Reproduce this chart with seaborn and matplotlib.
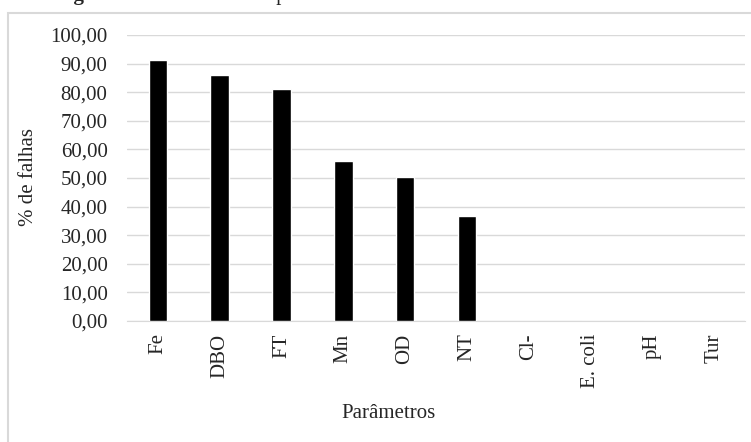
import numpy as np
import pandas as pd
import seaborn as sns
import matplotlib.pyplot as plt
from matplotlib.ticker import FuncFormatter
from matplotlib.patches import Rectangle

# data
parametros = ['Fe', 'DBO', 'FT', 'Mn', 'OD', 'NT', 'Cl-', 'E. coli', 'pH', 'Tur']
falhas = [91.3, 85.9, 81.0, 55.8, 50.5, 36.8, 0, 0, 0, 0]
yticks = [0, 10, 20, 30, 40, 50, 60, 70, 80, 90, 100]

df = pd.DataFrame({'Parametro': parametros, 'Falhas': falhas})

sns.set_style('white')
plt.rcParams['font.family'] = ['Liberation Serif', 'DejaVu Serif']
plt.rcParams['font.size'] = 15

fig = plt.figure(figsize=(7.51, 4.42), dpi=100)
ax = fig.add_axes([127/751, 1-321/442, (745-127)/751, (321-35)/442])

sns.barplot(data=df, x='Parametro', y='Falhas', color='black', width=0.3,
            saturation=1, ax=ax, zorder=3)

ax.set_ylim(0, 100)
ax.set_yticks(yticks)
ax.yaxis.set_major_formatter(FuncFormatter(lambda v, p: f'{v:.2f}'.replace('.', ',')))
ax.grid(axis='y', color='#d9d9d9', lw=1, zorder=0)
for s in ['top', 'right', 'left']:
    ax.spines[s].set_visible(False)
ax.spines['bottom'].set_color('#d9d9d9')
ax.tick_params(axis='both', length=0, labelsize=15)
ax.tick_params(axis='y', pad=14)
ax.tick_params(axis='x', pad=9)
plt.setp(ax.get_xticklabels(), rotation=90)

ax.set_xlabel('Parâmetros', fontsize=15)
ax.set_ylabel('% de falhas', fontsize=15)
ax.xaxis.set_label_coords((388-127)/618, -(404-321)/286)
ax.yaxis.set_label_coords(-(127-38)/618, (321-177)/286)

# outer frame of the figure box (cut at right and bottom)
fig.add_artist(Rectangle((8/751, -0.5), 1.5, 0.5+1-13/442, transform=fig.transFigure,
                         fill=False, edgecolor='#d9d9d9', lw=1.5))

# caption above, mostly cut off
fig.text(55/751, 1.0, 'Figura 5 –', fontsize=15, fontweight='bold', va='baseline')
fig.text(182/751, 1.0, 'Falhas dos parâmetros', fontsize=15, va='baseline')

fig.savefig('out.png', dpi=100)
